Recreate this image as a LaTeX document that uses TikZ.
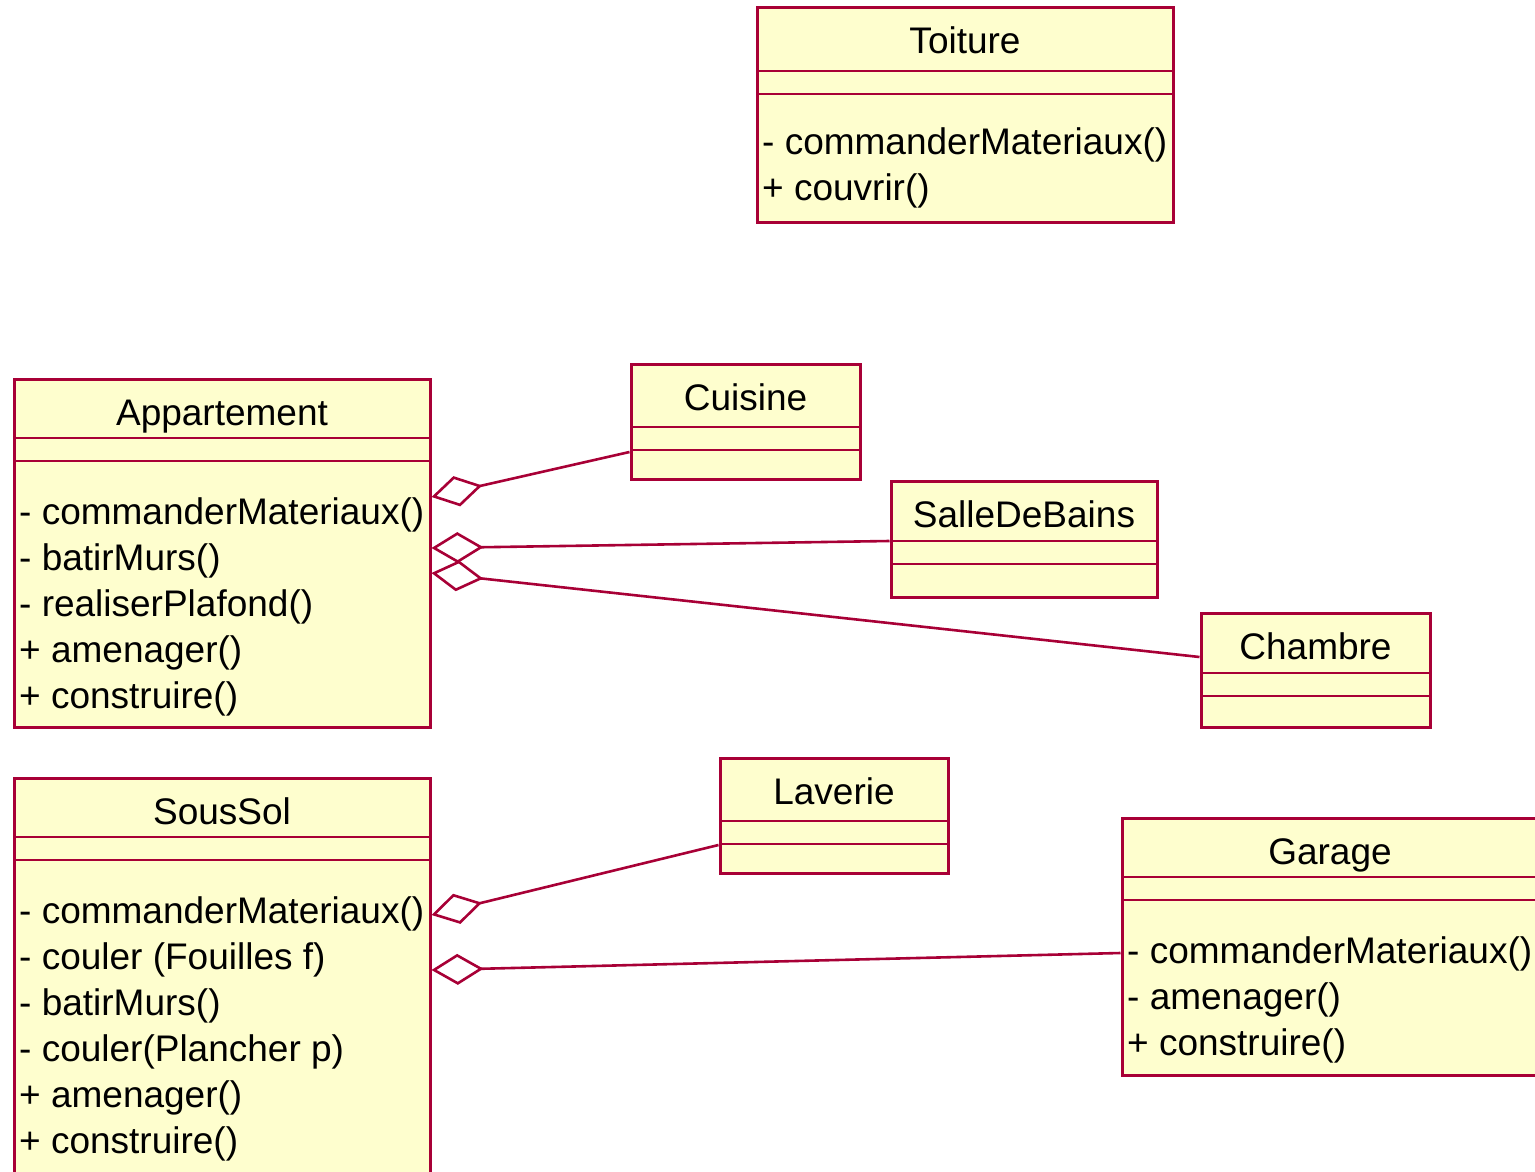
\documentclass[tikz,border=0pt]{standalone}
\usepackage{fontspec}
\setmainfont{Liberation Sans}
\usetikzlibrary{arrows.meta,fit}
\definecolor{umlborder}{HTML}{A80036}
\definecolor{umlfill}{HTML}{FEFECE}
\tikzset{
  classbox/.style={draw=umlborder, fill=umlfill, line width=3pt, inner sep=0pt},
  classsep/.style={draw=umlborder, line width=2.8pt},
  classname/.style={anchor=base, inner sep=0pt, font=\fontsize{37}{46}\selectfont},
  optext/.style={anchor=base west, inner sep=0pt, font=\fontsize{37}{46}\selectfont},
  aggreg/.style={draw=umlborder, line width=2.6pt, {Diamond[open,length=52pt,width=31pt]}-},
}
% #1 name, #2 left, #3 top, #4 right, #5 bottom, #6 title band, #7 title
\newcommand{\umlclass}[7]{%
  \node[classbox, fit={(#2,#3) (#4,#5)}] (#1) {};
  \draw[classsep] (#2,{#3+#6}) -- (#4,{#3+#6});
  \draw[classsep] (#2,{#3+#6+23}) -- (#4,{#3+#6+23});
  \node[classname] (#1-name) at ({(#2+#4)/2},{#3+46}) {#7};
}
% #1 name, #2 left, #3 second separator, #4 operations
\newcommand{\umlops}[4]{%
  \foreach \op [count=\i] in {#4}
    \node[optext] (#1-op\i) at ({#2+5},{#3+17+46*\i}) {\op};
}
\begin{document}
\begin{tikzpicture}[x=1pt, y=-1pt]
  \useasboundingbox (0,0) rectangle (1535,1172);
  \clip (0,0) rectangle (1535,1172);

  % classes
  \umlclass{Toiture}{757}{8}{1173}{222}{63}{Toiture}
  \umlops{Toiture}{757}{91}{- commanderMateriaux(), + couvrir()}

  \umlclass{Appartement}{14}{379}{430}{727}{59}{Appartement}
  \umlops{Appartement}{14}{461}{- commanderMateriaux(), - batirMurs(),
    - realiserPlafond(), + amenager(), + construire()}

  \umlclass{Cuisine}{631}{364}{860}{479}{63}{Cuisine}
  \umlclass{SalleDeBains}{891}{481}{1157}{597}{60}{SalleDeBains}
  \umlclass{Chambre}{1201}{613}{1430}{727}{60}{Chambre}

  \umlclass{SousSol}{14}{778}{430}{1190}{59}{SousSol}
  \umlops{SousSol}{14}{860}{- commanderMateriaux(), - couler (Fouilles f),
    - batirMurs(), - couler(Plancher p), + amenager(), + construire()}

  \umlclass{Laverie}{720}{758}{948}{873}{63}{Laverie}

  \umlclass{Garage}{1122}{818}{1538}{1075}{59}{Garage}
  \umlops{Garage}{1122}{900}{- commanderMateriaux(), - amenager(), + construire()}

  % aggregations
  \draw[aggreg] (Appartement.east |- 0,497) -- (Cuisine.west |- 0,452);
  \draw[aggreg] (Appartement.east |- 0,548) -- (SalleDeBains.west |- 0,541);
  \draw[aggreg] (Appartement.east |- 0,573) -- (Chambre.west |- 0,657);
  \draw[aggreg] (SousSol.east |- 0,915) -- (Laverie.west |- 0,845);
  \draw[aggreg] (SousSol.east |- 0,970) -- (Garage.west |- 0,953);
\end{tikzpicture}
\end{document}
